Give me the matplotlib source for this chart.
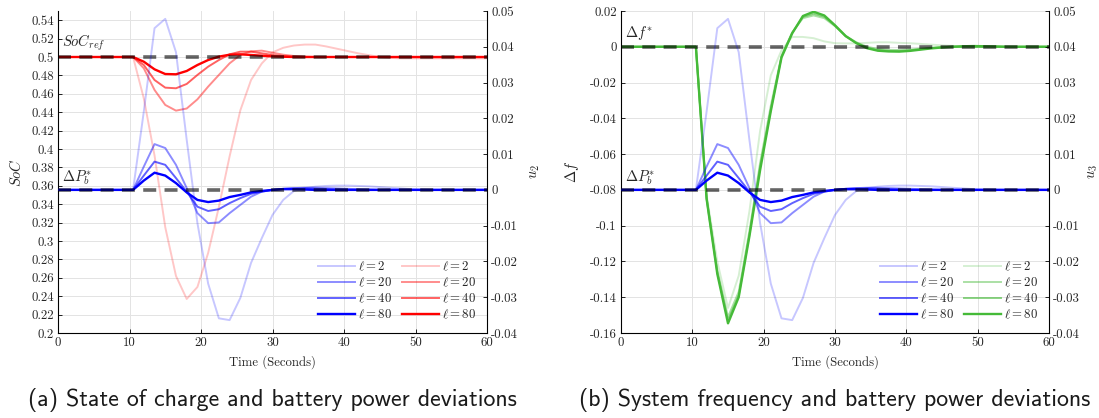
import numpy as np
import matplotlib
matplotlib.use("Agg")
import matplotlib.pyplot as plt
from matplotlib.ticker import FuncFormatter, MultipleLocator
from matplotlib.lines import Line2D

# ---------------- data ----------------
time = [0, 1.5, 3, 4.5, 6, 7.5, 9, 10.5, 12, 13.5, 15, 16.5, 18, 19.5, 21, 22.5,
        24, 25.5, 27, 28.5, 30, 31.5, 33, 34.5, 36, 37.5, 39, 40.5, 42, 43.5,
        45, 46.5, 48, 49.5, 51, 52.5, 54, 55.5, 57, 58.5, 60]

ell_labels = ["2", "20", "40", "80"]

# battery power deviation u2 (right axis), same in both panels
u_l2 = [0, 0, 0, 0, 0, 0, 0, 0, 0.0219, 0.0452, 0.0478, 0.0385, 0.0140, -0.0093,
        -0.0262, -0.0359, -0.0364, -0.0302, -0.0204, -0.0135, -0.0070, -0.0028,
        -0.0003, 0.0005, 0.0009, 0.0011, 0.0012, 0.0012, 0.0011, 0.0010, 0.0008,
        0.0006, 0.0004, 0.0002, 0.0001, 0, 0, 0, 0, 0, 0]
u_l20 = [0, 0, 0, 0, 0, 0, 0, 0, 0.0065, 0.0128, 0.0117, 0.0070, 0.0005, -0.0065,
         -0.0093, -0.0091, -0.0065, -0.0042, -0.0019, -0.0005, 0.0, 0.0003, 0.0005,
         0.0006, 0.0006, 0.0005, 0.0004, 0.0003, 0.0002, 0.0001, 0, 0, 0, 0, 0, 0,
         0, 0, 0, 0, 0]
u_l40 = [0, 0, 0, 0, 0, 0, 0, 0, 0.0040, 0.0079, 0.0070, 0.0033, -0.0005, -0.0047,
         -0.0059, -0.0054, -0.0037, -0.0023, -0.0011, -0.0005, 0.0, 0.0003, 0.0004,
         0.0004, 0.0003, 0.0002, 0.0001, 0, 0, 0, 0, 0, 0, 0, 0, 0, 0, 0, 0, 0, 0]
u_l80 = [0, 0, 0, 0, 0, 0, 0, 0, 0.0026, 0.0048, 0.0040, 0.0019, -0.0007, -0.0028,
         -0.0034, -0.0030, -0.0020, -0.0014, -0.0007, -0.0003, 0.0, 0.0002, 0.0002,
         0.0001, 0, 0, 0, 0, 0, 0, 0, 0, 0, 0, 0, 0, 0, 0, 0, 0, 0]

# state of charge (left axis, panel a)
soc_l2 = [0.5, 0.5, 0.5, 0.5, 0.5, 0.5, 0.5, 0.5, 0.455, 0.393, 0.315, 0.262, 0.237,
          0.250, 0.287, 0.337, 0.392, 0.442, 0.475, 0.493, 0.505, 0.510, 0.5125,
          0.5135, 0.5135, 0.5115, 0.509, 0.5065, 0.504, 0.502, 0.5, 0.499, 0.4985,
          0.4985, 0.4985, 0.4985, 0.4985, 0.4985, 0.4985, 0.4985, 0.4985]
soc_l20 = [0.5, 0.5, 0.5, 0.5, 0.5, 0.5, 0.5, 0.5, 0.4877, 0.4642, 0.4479, 0.4417,
           0.4440, 0.4540, 0.4678, 0.4805, 0.4931, 0.5022, 0.5062, 0.5069, 0.5047,
           0.5025, 0.5011, 0.5004, 0.5, 0.5, 0.5, 0.5, 0.5, 0.5, 0.5, 0.5, 0.5, 0.5,
           0.5, 0.5, 0.5, 0.5, 0.5, 0.5, 0.5]
soc_l40 = [0.5, 0.5, 0.5, 0.5, 0.5, 0.5, 0.5, 0.5, 0.4913, 0.4750, 0.4667, 0.4660,
           0.4707, 0.4805, 0.4895, 0.4967, 0.5029, 0.5058, 0.5058, 0.5040, 0.5022,
           0.5010, 0.5004, 0.5, 0.5, 0.5, 0.5, 0.5, 0.5, 0.5, 0.5, 0.5, 0.5, 0.5,
           0.5, 0.5, 0.5, 0.5, 0.5, 0.5, 0.5]
soc_l80 = [0.5, 0.5, 0.5, 0.5, 0.5, 0.5, 0.5, 0.5, 0.4949, 0.4866, 0.4815, 0.4812,
           0.4848, 0.4913, 0.4967, 0.5004, 0.5025, 0.5029, 0.5022, 0.5014, 0.5007,
           0.5003, 0.5, 0.5, 0.5, 0.5, 0.5, 0.5, 0.5, 0.5, 0.5, 0.5, 0.5, 0.5, 0.5,
           0.5, 0.5, 0.5, 0.5, 0.5, 0.5]

# frequency deviation (left axis, panel b)
df_l2 = [0, 0, 0, 0, 0, 0, 0, 0, -0.083, -0.120, -0.146, -0.128, -0.092, -0.047,
         -0.016, -0.002, 0.0055, 0.0055, 0.0048, 0.0030, 0.0020, 0.0019, 0.0019,
         0.0022, 0.0025, 0.0025, 0.0022, 0.0020, 0.0016, 0.0012, 0.0008, 0.0005,
         0.0003, 0, 0, 0, 0, 0, 0, 0, 0]
df_l20 = [0, 0, 0, 0, 0, 0, 0, 0, -0.084, -0.125, -0.151, -0.137, -0.103, -0.065,
          -0.033, -0.005, 0.008, 0.0160, 0.0175, 0.0160, 0.0115, 0.0060, 0.0025,
          0.0, -0.0012, -0.0017, -0.0018, -0.0015, -0.0010, -0.0005, -0.0002, 0, 0,
          0, 0, 0, 0, 0, 0, 0, 0]
df_l40 = [0, 0, 0, 0, 0, 0, 0, 0, -0.085, -0.126, -0.153, -0.139, -0.105, -0.067,
          -0.035, -0.0055, 0.0078, 0.0167, 0.0185, 0.0168, 0.0118, 0.0058, 0.0021,
          -0.0006, -0.0018, -0.0023, -0.0024, -0.0020, -0.0013, -0.0007, -0.0003,
          0, 0, 0, 0, 0, 0, 0, 0, 0, 0]
df_l80 = [0, 0, 0, 0, 0, 0, 0, 0, -0.085, -0.127, -0.1546, -0.140, -0.106, -0.069,
          -0.036, -0.006, 0.0075, 0.0172, 0.0196, 0.0175, 0.0120, 0.0060, 0.0020,
          -0.0008, -0.0022, -0.0026, -0.0027, -0.0023, -0.0016, -0.0009, -0.0004,
          0.0, 0.0003, 0.0004, 0.0003, 0.0002, 0, 0, 0, 0, 0]

soc_ref = 0.5
df_ref = 0.0
u_ref = 0.0

# ---------------- style ----------------
plt.rcParams["font.family"] = "cmr10"
plt.rcParams["mathtext.fontset"] = "cm"
plt.rcParams["axes.unicode_minus"] = False
plt.rcParams["axes.formatter.use_mathtext"] = True

TICK_FS = 9.2
LAB_FS = 10.5
alphas = [0.22, 0.45, 0.62, 1.0]
widths = [1.4, 1.4, 1.4, 1.7]
BLUE = (0.0, 0.0, 1.0)
RED = (1.0, 0.0, 0.0)
GREEN = (0.27, 0.73, 0.22)
TXT = "#262626"


def fmt(v, pos):
    return f"{round(v, 4):g}"


fig = plt.figure(figsize=(10.99, 4.18), dpi=100)
W, H = 1099, 418
ax_bottom = (H - 333) / H
ax_height = (333 - 11) / H
axA = fig.add_axes([58 / W, ax_bottom, (487 - 58) / W, ax_height])
axB = fig.add_axes([621 / W, ax_bottom, (1049 - 621) / W, ax_height])


def style(ax1, ax2):
    for ax in (ax1, ax2):
        ax.spines["top"].set_visible(False)
        ax.tick_params(direction="in", length=3, width=0.6, labelsize=TICK_FS,
                       labelcolor=TXT, color="black", pad=3)
    ax1.spines["right"].set_visible(False)
    ax2.spines["left"].set_visible(False)
    ax2.spines["bottom"].set_visible(False)
    ax1.tick_params(axis="y", right=False)
    ax1.set_xlim(0, 60)
    ax1.xaxis.set_major_locator(MultipleLocator(10))
    ax1.xaxis.set_major_formatter(FuncFormatter(fmt))
    ax1.yaxis.set_major_formatter(FuncFormatter(fmt))
    ax2.yaxis.set_major_formatter(FuncFormatter(fmt))
    ax1.grid(True, color="#e3e3e3", lw=0.7)
    ax1.set_axisbelow(True)
    ax2.set_ylim(-0.04, 0.05)
    ax2.yaxis.set_major_locator(MultipleLocator(0.01))
    ax1.set_xlabel("Time (Seconds)", fontsize=TICK_FS, color=TXT, labelpad=4)


dash_kw = dict(color="black", alpha=0.6, lw=2.6, dashes=(3.6, 2.3), zorder=10)
leg_kw = dict(ncol=2, loc="lower right", frameon=False, fontsize=TICK_FS,
              handlelength=2.9, handletextpad=0.2, columnspacing=0.8,
              labelspacing=0.2, borderaxespad=0.6, borderpad=0.3)

u_series = [u_l2, u_l20, u_l40, u_l80]

# ---------------- panel (a) ----------------
axA2 = axA.twinx()
axA2.set_position(axA.get_position())
style(axA, axA2)
axA.set_ylim(0.2, 0.55)
axA.set_yticks(np.arange(0.2, 0.541, 0.02))

handles_b, handles_c = [], []
for ser, a, w, lab in zip([soc_l2, soc_l20, soc_l40, soc_l80], alphas, widths, ell_labels):
    axA.plot(time, ser, color=RED, alpha=a, lw=w)
    handles_c.append(Line2D([], [], color=RED, alpha=a, lw=w, label=rf"$\ell = {lab}$"))
for ser, a, w, lab in zip(u_series, alphas, widths, ell_labels):
    axA2.plot(time, ser, color=BLUE, alpha=a, lw=w)
    handles_b.append(Line2D([], [], color=BLUE, alpha=a, lw=w, label=rf"$\ell = {lab}$"))
axA.plot([time[0], time[-1]], [soc_ref, soc_ref], **dash_kw)
axA2.plot([time[0], time[-1]], [u_ref, u_ref], **dash_kw)
axA.text(0.6, soc_ref + 0.004, r"$SoC_{ref}$", fontsize=LAB_FS, color=TXT, va="bottom", ha="left", zorder=11)
axA2.text(0.6, u_ref + 0.0008, r"$\Delta P_b^{*}$", fontsize=LAB_FS, color=TXT, va="bottom", ha="left", zorder=11)
axA.set_ylabel(r"$SoC$", fontsize=LAB_FS, color=TXT)
axA.yaxis.set_label_coords(-0.080, 0.5)
axA2.set_ylabel(r"$u_2$", fontsize=LAB_FS, color=TXT)
axA2.yaxis.set_label_coords(1.096, 0.5)
leg = axA2.legend(handles=handles_b + handles_c, **leg_kw)
for t in leg.get_texts():
    t.set_color(TXT)

# ---------------- panel (b) ----------------
axB2 = axB.twinx()
axB2.set_position(axB.get_position())
style(axB, axB2)
axB.set_ylim(-0.16, 0.02)
axB.yaxis.set_major_locator(MultipleLocator(0.02))

handles_g = []
for ser, a, w, lab in zip([df_l2, df_l20, df_l40, df_l80], alphas, widths, ell_labels):
    axB.plot(time, ser, color=GREEN, alpha=a, lw=w)
    handles_g.append(Line2D([], [], color=GREEN, alpha=a, lw=w, label=rf"$\ell = {lab}$"))
for ser, a, w in zip(u_series, alphas, widths):
    axB2.plot(time, ser, color=BLUE, alpha=a, lw=w)
axB.plot([time[0], time[-1]], [df_ref, df_ref], **dash_kw)
axB2.plot([time[0], time[-1]], [u_ref, u_ref], **dash_kw)
axB.text(0.6, df_ref + 0.0025, r"$\Delta f^{*}$", fontsize=LAB_FS, color=TXT, va="bottom", ha="left", zorder=11)
axB2.text(0.6, u_ref + 0.0008, r"$\Delta P_b^{*}$", fontsize=LAB_FS, color=TXT, va="bottom", ha="left", zorder=11)
axB.set_ylabel(r"$\Delta f$", fontsize=LAB_FS, color=TXT)
axB.yaxis.set_label_coords(-0.093, 0.5)
axB2.set_ylabel(r"$u_3$", fontsize=LAB_FS, color=TXT)
axB2.yaxis.set_label_coords(1.086, 0.5)
leg = axB2.legend(handles=handles_b + handles_g, **leg_kw)
for t in leg.get_texts():
    t.set_color(TXT)

# ---------------- captions ----------------
fig.text((58 + 487) / 2 / W, (H - 400) / H, "(a) State of charge and battery power deviations",
         family="cmss10", fontsize=17.2, color="#1a1a1a", ha="center", va="center")
fig.text((621 + 1049) / 2 / W, (H - 400) / H, "(b) System frequency and battery power deviations",
         family="cmss10", fontsize=17.2, color="#1a1a1a", ha="center", va="center")

fig.savefig("out.png", dpi=100)
